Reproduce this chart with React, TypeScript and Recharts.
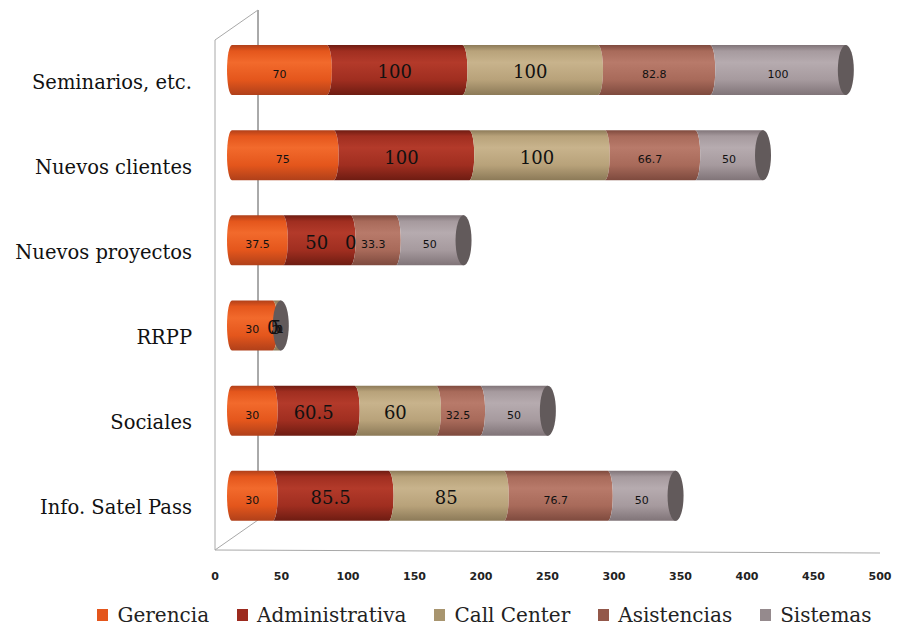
import { ComposedChart, Bar, Line, XAxis, YAxis, LabelList } from "recharts";

// categories, top to bottom
const categories = ["Seminarios, etc.", "Nuevos clientes", "Nuevos proyectos", "RRPP", "Sociales", "Info. Satel Pass"];

// one array per department, same order as categories
const gerencia = [70, 75, 37.5, 30, 30, 30];
const administrativa = [100, 100, 50, 0, 60.5, 85.5];
const callCenter = [100, 100, 0, 5, 60, 85];
const asistencias = [82.8, 66.7, 33.3, 0, 32.5, 76.7];
const sistemas = [100, 50, 50, 1, 50, 50];

const xTicks = [0, 50, 100, 150, 200, 250, 300, 350, 400, 450, 500];

const series = [
  { key: "Gerencia", values: gerencia, base: "#e4561c", light: "#f26a2c", dark: "#b0401a", swatch: "#e4561c", big: false },
  { key: "Administrativa", values: administrativa, base: "#a02e20", light: "#b33a2a", dark: "#6e1c12", swatch: "#9c2a1e", big: true },
  { key: "Call Center", values: callCenter, base: "#b8a27a", light: "#c8b38c", dark: "#8c7a58", swatch: "#a8956f", big: true },
  { key: "Asistencias", values: asistencias, base: "#a86a5a", light: "#b87a6a", dark: "#7e4a3e", swatch: "#93584a", big: false },
  { key: "Sistemas", values: sistemas, base: "#a69a9e", light: "#b6abaf", dark: "#807478", swatch: "#958a8d", big: false },
];

const data = categories.map((name, i) => {
  const row: Record<string, string | number> = { name };
  series.forEach((s) => (row[s.key] = s.values[i]));
  return row;
});

const W = 899;
const H = 629;
const PLOT_LEFT = 215;
const PLOT_RIGHT = 880;
const PLOT_TOP = 27;
const PLOT_BOTTOM = 538;
const DEPTH_X = 43;
const DEPTH_Y = 30;
const CAP_RX = 8;
const EDGE_RX = 5;

const serif = "'DejaVu Serif', serif";
const sans = "'DejaVu Sans', sans-serif";

function Segment(props: any) {
  const { x, y, width, height, index } = props;
  const first = index === 0;
  const last = index === series.length - 1;
  if (width <= 0 && !last) return null;
  const w = Math.max(width, 0);
  const ry = height / 2;
  const d = [
    `M${x},${y}`,
    `L${x + w},${y}`,
    `A${EDGE_RX},${ry} 0 0 1 ${x + w},${y + height}`,
    `L${x},${y + height}`,
    `A${EDGE_RX},${ry} 0 0 ${first ? 1 : 0} ${x},${y}`,
    "Z",
  ].join(" ");
  return (
    <g>
      <path d={d} fill={`url(#cyl-${index})`} />
      {last && <ellipse cx={x + w} cy={y + ry} rx={CAP_RX} ry={ry} fill="#625a5b" />}
    </g>
  );
}

// walls and floor edge of the 3D box
function Frame() {
  const bx = PLOT_LEFT + DEPTH_X;
  return (
    <svg width={W} height={H} style={{ position: "absolute", left: 0, top: 0 }}>
      <line x1={PLOT_LEFT} y1={PLOT_TOP + 13} x2={PLOT_LEFT} y2={PLOT_BOTTOM + 12} stroke="#a8a8a8" />
      <line x1={bx} y1={PLOT_TOP - 17} x2={bx} y2={PLOT_BOTTOM - 18} stroke="#555" />
      <line x1={PLOT_LEFT} y1={PLOT_TOP + 13} x2={bx} y2={PLOT_TOP + 13 - DEPTH_Y} stroke="#a8a8a8" />
      <line x1={PLOT_LEFT} y1={PLOT_BOTTOM + 12} x2={bx} y2={PLOT_BOTTOM + 12 - DEPTH_Y} stroke="#a8a8a8" />
      <line x1={PLOT_LEFT} y1={PLOT_BOTTOM + 12} x2={PLOT_RIGHT} y2={PLOT_BOTTOM + 15} stroke="#a8a8a8" />
    </svg>
  );
}

function LegendRow() {
  return (
    <div
      style={{
        position: "absolute",
        left: 70,
        top: 603,
        width: W - 70,
        display: "flex",
        justifyContent: "center",
        fontFamily: serif,
        fontSize: 20,
        lineHeight: "24px",
        color: "#222",
      }}
    >
      {series.map((s) => (
        <div key={s.key} style={{ display: "flex", alignItems: "center", margin: "0 14px" }}>
          <span style={{ width: 11, height: 12, background: s.swatch, marginRight: 9, display: "inline-block" }} />
          <span>{s.key}</span>
        </div>
      ))}
    </div>
  );
}

export default function App() {
  return (
    <div style={{ position: "absolute", left: 0, top: 0, width: W, height: H, background: "#fff" }}>
      <Frame />
      <div style={{ position: "absolute", left: 0, top: 0 }}>
        <ComposedChart
          width={W}
          height={H}
          data={data}
          layout="vertical"
          margin={{ top: PLOT_TOP, right: W - PLOT_RIGHT, left: 0, bottom: H - PLOT_BOTTOM - 70 }}
          barSize={50}
        >
          <defs>
            {series.map((s, i) => (
              <linearGradient key={s.key} id={`cyl-${i}`} x1="0" y1="0" x2="0" y2="1">
                <stop offset="0" stopColor={s.dark} />
                <stop offset="0.12" stopColor={s.base} />
                <stop offset="0.35" stopColor={s.light} />
                <stop offset="0.7" stopColor={s.base} />
                <stop offset="1" stopColor={s.dark} />
              </linearGradient>
            ))}
          </defs>
          <XAxis
            xAxisId="front"
            type="number"
            domain={[0, 500]}
            ticks={xTicks}
            allowDataOverflow
            axisLine={false}
            tickLine={false}
            tickSize={0}
            tickMargin={4}
            height={70}
            interval={0}
            tick={{ fontSize: 11, fontWeight: "bold", fill: "#222", fontFamily: sans }}
          />
          <XAxis xAxisId="bars" type="number" domain={[0, 478]} hide padding={{ left: 17, right: 0 }} />
          <YAxis
            type="category"
            dataKey="name"
            width={PLOT_LEFT}
            axisLine={false}
            tickLine={false}
            tickSize={0}
            tickMargin={23}
            interval={0}
            tick={{ fontSize: 19.5, fill: "#111", fontFamily: serif, dy: 12 }}
          />
          {series.map((s, i) => (
            <Bar
              key={s.key}
              xAxisId="bars"
              dataKey={s.key}
              stackId="t"
              fill={s.base}
              isAnimationActive={false}
              shape={(p: any) => <Segment {...p} index={i} />}
            >
              <LabelList
                dataKey={s.key}
                position="center"
                fill="#111"
                fontSize={s.big ? 18 : 11}
                fontFamily={s.big ? serif : sans}
                dy={s.big ? 2 : 4}
              />
            </Bar>
          ))}
          {/* invisible series that keeps the front value axis in use */}
          <Line
            xAxisId="front"
            dataKey="Gerencia"
            stroke="none"
            dot={false}
            activeDot={false}
            legendType="none"
            isAnimationActive={false}
          />
        </ComposedChart>
      </div>
      <LegendRow />
    </div>
  );
}
